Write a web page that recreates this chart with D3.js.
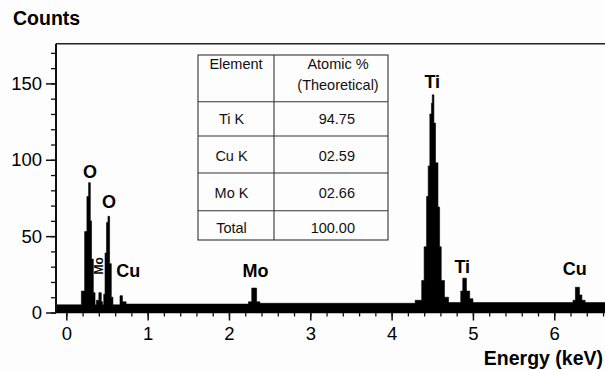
<!DOCTYPE html>
<html>
<head>
<meta charset="utf-8">
<script src="https://cdn.jsdelivr.net/npm/d3@7/dist/d3.min.js"></script>
<style>
  html, body { margin: 0; padding: 0; background: #fdfdfd; }
  svg { display: block; font-family: "Liberation Sans", Arial, sans-serif; }
</style>
</head>
<body>
<svg id="chart" width="605" height="370"></svg>
<script>
// ---- data ----
// spectrum outline (energy keV, counts), drawn as steps
const energyKeV = [-0.127,
  0.185, 0.225, 0.253, 0.274, 0.295, 0.31, 0.332, 0.353,
  0.37, 0.40, 0.43, 0.445,
  0.46, 0.476, 0.494, 0.512, 0.532, 0.553, 0.573,
  0.66, 0.69, 0.735,
  2.24, 2.28, 2.34, 2.38,
  4.29, 4.37, 4.40, 4.43, 4.45, 4.47, 4.49, 4.50, 4.52, 4.54, 4.57, 4.59, 4.61, 4.65, 4.70,
  4.85, 4.875, 4.92, 4.96, 5.0,
  6.23, 6.26, 6.31, 6.34, 6.38,
  6.624];
const counts = [5,
  14, 53, 76, 85, 60, 35, 13, 5,
  8, 13, 7, 5,
  12, 39, 59, 63, 32, 10, 5,
  11, 7, 5.5,
  7, 16, 7, 6,
  8, 21, 43, 76, 96, 130, 137, 142.5, 124, 98, 69, 43, 21, 10, 6.5,
  14, 22.5, 14, 9, 6.5,
  8, 16.5, 11.5, 8, 6.5,
  6.5];

const peakNames    = ["O", "O", "Mo", "Cu", "Mo", "Ti", "Ti", "Cu"];
const peakEnergy   = [0.291, 0.525, 0.402, 0.762, 2.326, 4.50, 4.869, 6.251];
const peakLabelCts = [88.1, 68.4, 30.5, 23.4, 23.4, 147, 25.7, 24.6];

const yTicks = [0, 50, 100, 150];
const xTicks = [0, 1, 2, 3, 4, 5, 6];

const tableElements = ["Ti K", "Cu K", "Mo K", "Total"];
const tableAtomic   = ["94.75", "02.59", "02.66", "100.00"];
const tableHeader1  = ["Element", "Atomic %"];
const tableHeader2  = ["", "(Theoretical)"];

// ---- chart ----
const svg = d3.select("#chart");
const x = d3.scaleLinear().domain([-0.127, 6.624]).range([56, 605]);
const y = d3.scaleLinear().domain([0, 176]).range([312.5, 43.7]);

const spectrum = energyKeV.map((e, i) => ({ e, c: counts[i] }));
const area = d3.area()
  .x(d => x(d.e))
  .y0(y(0))
  .y1(d => y(d.c))
  .curve(d3.curveStepAfter);
svg.append("path").datum(spectrum).attr("d", area).attr("fill", "#000")
  .attr("stroke", "#000").attr("stroke-width", 0.6);

// top border
svg.append("line")
  .attr("x1", x.range()[0]).attr("x2", x.range()[1])
  .attr("y1", y(176)).attr("y2", y(176))
  .attr("stroke", "#222").attr("stroke-width", 1.6);

// y axis
const yAxisG = svg.append("g").attr("transform", `translate(${x.range()[0]},0)`);
yAxisG.call(d3.axisLeft(y).tickValues(d3.range(0, 171, 10)).tickSize(5).tickFormat(""))
  .call(g => g.select(".domain").remove());
yAxisG.selectAll(".tick line").attr("stroke", "#111").attr("stroke-width", 1.3);
const yMajor = svg.append("g").attr("transform", `translate(${x.range()[0]},0)`);
yMajor.call(d3.axisLeft(y).tickValues(yTicks).tickSize(10).tickPadding(4).tickFormat(d3.format("d")))
  .call(g => g.select(".domain").remove());
yMajor.selectAll(".tick line").attr("stroke", "#111").attr("stroke-width", 1.5);
yMajor.selectAll(".tick text").attr("font-size", 18.5).attr("fill", "#000")
  .attr("font-family", "Liberation Sans, Arial, sans-serif");
svg.append("line")
  .attr("x1", x.range()[0]).attr("x2", x.range()[0])
  .attr("y1", y(176)).attr("y2", y(0))
  .attr("stroke", "#111").attr("stroke-width", 2);

// x axis
const xMinor = svg.append("g").attr("transform", `translate(0,${y(0)})`);
xMinor.call(d3.axisBottom(x).tickValues(d3.range(-0.0, 6.61, 0.2)).tickSize(4).tickFormat(""))
  .call(g => g.select(".domain").remove());
xMinor.selectAll(".tick line").attr("stroke", "#111").attr("stroke-width", 1.3);
const xMajor = svg.append("g").attr("transform", `translate(0,${y(0)})`);
xMajor.call(d3.axisBottom(x).tickValues(xTicks).tickSize(8).tickPadding(6).tickFormat(d3.format("d")))
  .call(g => g.select(".domain").remove());
xMajor.selectAll(".tick line").attr("stroke", "#111").attr("stroke-width", 1.5);
xMajor.selectAll(".tick text").attr("font-size", 18.5).attr("fill", "#000")
  .attr("font-family", "Liberation Sans, Arial, sans-serif");
svg.append("line")
  .attr("x1", x.range()[0]).attr("x2", x.range()[1])
  .attr("y1", y(0)).attr("y2", y(0))
  .attr("stroke", "#000").attr("stroke-width", 1.5);

// axis titles
svg.append("text").attr("x", 13).attr("y", 25).text("Counts")
  .attr("font-size", 19.5).attr("font-weight", "bold").attr("fill", "#000");
svg.append("text").attr("x", 603).attr("y", 365).attr("text-anchor", "end").text("Energy (keV)")
  .attr("font-size", 19.5).attr("font-weight", "bold").attr("fill", "#000");

// peak labels
peakNames.forEach((t, i) => {
  const px = x(peakEnergy[i]), py = y(peakLabelCts[i]);
  const el = svg.append("text").text(t).attr("fill", "#000").attr("font-weight", "bold");
  if (i === 2) {
    el.attr("transform", `translate(${px},${py}) rotate(-90)`)
      .attr("text-anchor", "middle").attr("dy", "0.35em").attr("font-size", 12);
  } else {
    el.attr("x", px).attr("y", py).attr("text-anchor", "middle").attr("font-size", 18);
  }
});

// table
const tL = 198, tR = 388, tC = 274, tT = 55;
const rowEdges = [55, 101.7, 136, 173, 210.7, 240];
const tg = svg.append("g").attr("font-size", 14.5).attr("fill", "#111");
tg.append("rect").attr("x", tL).attr("y", tT).attr("width", tR - tL).attr("height", rowEdges[5] - tT)
  .attr("fill", "#fdfdfd").attr("stroke", "#333").attr("stroke-width", 1.1);
tg.append("line").attr("x1", tC).attr("x2", tC).attr("y1", tT).attr("y2", rowEdges[5])
  .attr("stroke", "#333").attr("stroke-width", 1.1);
rowEdges.slice(1, 5).forEach(r => {
  tg.append("line").attr("x1", tL).attr("x2", tR).attr("y1", r).attr("y2", r)
    .attr("stroke", "#333").attr("stroke-width", 1.1);
});
const colCentersH = [236, 338];
tableHeader1.forEach((h, i) => tg.append("text").attr("x", colCentersH[i]).attr("y", 68.5)
  .attr("text-anchor", "middle").text(h));
tableHeader2.forEach((h, i) => tg.append("text").attr("x", colCentersH[i]).attr("y", 90)
  .attr("text-anchor", "middle").text(h));
const rowBase = [124, 160.5, 197.5, 233.3];
tableElements.forEach((t, i) => {
  tg.append("text").attr("x", 231.5).attr("y", rowBase[i]).attr("text-anchor", "middle").text(t);
  tg.append("text").attr("x", 355).attr("y", rowBase[i]).attr("text-anchor", "end").text(tableAtomic[i]);
});
</script>
</body>
</html>
